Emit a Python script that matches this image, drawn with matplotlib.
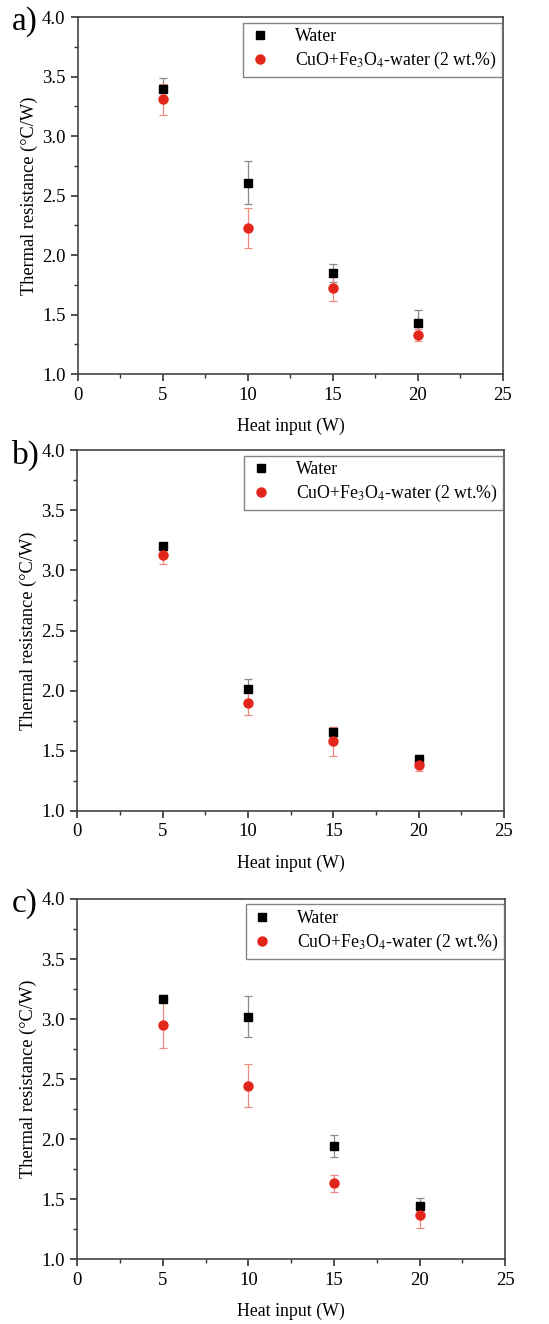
import matplotlib.pyplot as plt
import numpy as np

plt.rcParams['font.family'] = ['Liberation Serif', 'DejaVu Serif']
plt.rcParams['mathtext.fontset'] = 'stix'

heat = [5, 10, 15, 20]

# panel a
water_a = [3.40, 2.61, 1.85, 1.43]
water_a_err = [0.09, 0.18, 0.075, 0.11]
nano_a = [3.31, 2.23, 1.72, 1.33]
nano_a_err = [0.13, 0.17, 0.11, 0.05]

# panel b
water_b = [3.20, 2.01, 1.655, 1.435]
water_b_err = [0.03, 0.09, 0.04, 0.03]
nano_b = [3.13, 1.90, 1.58, 1.385]
nano_b_err = [0.08, 0.10, 0.12, 0.05]

# panel c
water_c = [3.17, 3.02, 1.94, 1.44]
water_c_err = [0.03, 0.17, 0.09, 0.07]
nano_c = [2.95, 2.445, 1.63, 1.37]
nano_c_err = [0.19, 0.18, 0.07, 0.11]

panels = [
    ("a)", water_a, water_a_err, nano_a, nano_a_err),
    ("b)", water_b, water_b_err, nano_b, nano_b_err),
    ("c)", water_c, water_c_err, nano_c, nano_c_err),
]

fig = plt.figure(figsize=(5.49, 13.24), dpi=100)
boxes = [
    [0.142, 0.7175, 0.774, 0.2695],
    [0.141, 0.3875, 0.777, 0.2725],
    [0.141, 0.049, 0.779, 0.272],
]

for box, (tag, w, we, n, ne) in zip(boxes, panels):
    ax = fig.add_axes(box)
    ax.errorbar(heat, w, yerr=we, fmt='none', ecolor='#8a8a8a', elinewidth=0.9,
                capsize=3, capthick=0.9, zorder=2)
    ax.errorbar(heat, n, yerr=ne, fmt='none', ecolor='#f08a80', elinewidth=0.9,
                capsize=3, capthick=0.9, zorder=2)
    ax.plot(heat, w, 's', color='black', ms=6, label='Water', zorder=3)
    ax.plot(heat, n, 'o', color='#e3261c', ms=6.5,
            label=r'CuO+Fe$_3$O$_4$-water (2 wt.%)', zorder=3)

    ax.set_xlim(0, 25)
    ax.set_ylim(1.0, 4.0)
    ax.set_xticks(np.arange(0, 26, 5))
    ax.set_yticks(np.arange(1.0, 4.01, 0.5))
    ax.set_xticks(np.arange(2.5, 25, 5), minor=True)
    ax.set_yticks(np.arange(1.25, 4.0, 0.5), minor=True)
    ax.yaxis.set_major_formatter(plt.FormatStrFormatter('%.1f'))
    ax.tick_params(which='major', direction='out', length=5, width=1.2,
                   labelsize=13.5, color='#333333', pad=4)
    ax.tick_params(which='minor', direction='out', length=3, width=1.0,
                   color='#333333')
    for s in ax.spines.values():
        s.set_color('#444444')
        s.set_linewidth(1.2)

    ax.set_xlabel('Heat input (W)', fontsize=12.8, labelpad=10)
    ax.set_ylabel('Thermal resistance (°C/W)', fontsize=13.2, labelpad=3)

    leg = ax.legend(loc='upper right', bbox_to_anchor=(0.998, 0.985),
                    fontsize=12.8, frameon=True, fancybox=False,
                    borderaxespad=0, handletextpad=1.3, handlelength=1.3,
                    borderpad=0.3, labelspacing=0.3)
    leg.get_frame().set_edgecolor('#666666')
    leg.get_frame().set_linewidth(1.0)

    pos = ax.get_position()
    fig.text(0.022, pos.y1 + 0.008, tag, fontsize=24, ha='left', va='top')

fig.savefig('out.png', dpi=100)
